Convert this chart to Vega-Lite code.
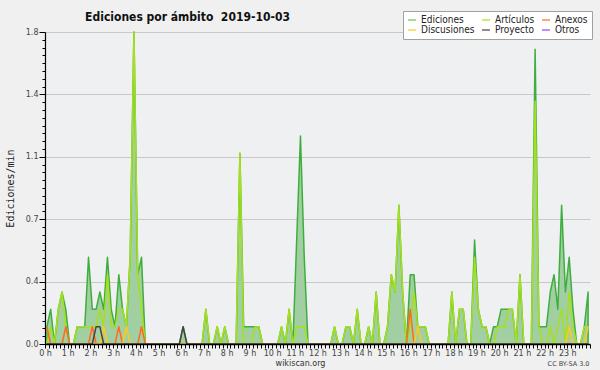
{
  "$schema": "https://vega.github.io/schema/vega-lite/v6.json",
  "width": 545,
  "height": 312,
  "autosize": {"type": "none"},
  "padding": {"left": 45, "top": 32, "right": 10, "bottom": 26},
  "background": "#f0f0f0",
  "title": {"text": "Ediciones por ámbito\u00a0 2019-10-03", "font": "DejaVu Sans Condensed", "fontSize": 12, "fontWeight": "bold", "color": "#111111", "anchor": "middle", "dx": -130, "dy": 19, "offset": 6},
  "config": {"view": {"stroke": null, "fill": "#eef0f2"}},
  "data": {"values": [
    {"t":5,"ed":0.1,"ar":0,"an":0.1,"di":0,"pr":0},
    {"t":15,"ed":0.2,"ar":0.1,"an":0,"di":0,"pr":0},
    {"t":25,"ed":0,"ar":0,"an":0,"di":0,"pr":0},
    {"t":35,"ed":0.2,"ar":0.2,"an":0,"di":0,"pr":0},
    {"t":45,"ed":0.3,"ar":0.3,"an":0,"di":0,"pr":0},
    {"t":55,"ed":0.2,"ar":0.1,"an":0.1,"di":0,"pr":0},
    {"t":65,"ed":0,"ar":0,"an":0,"di":0,"pr":0},
    {"t":75,"ed":0,"ar":0,"an":0,"di":0,"pr":0},
    {"t":85,"ed":0.1,"ar":0.1,"an":0,"di":0,"pr":0},
    {"t":95,"ed":0.1,"ar":0.1,"an":0,"di":0,"pr":0},
    {"t":105,"ed":0.1,"ar":0.1,"an":0,"di":0,"pr":0},
    {"t":115,"ed":0.5,"ar":0.1,"an":0,"di":0,"pr":0},
    {"t":125,"ed":0.2,"ar":0.1,"an":0.1,"di":0,"pr":0},
    {"t":135,"ed":0.2,"ar":0.1,"an":0,"di":0,"pr":0.1},
    {"t":145,"ed":0.3,"ar":0.2,"an":0,"di":0,"pr":0.1},
    {"t":155,"ed":0.2,"ar":0.1,"an":0,"di":0.1,"pr":0},
    {"t":165,"ed":0.5,"ar":0.4,"an":0,"di":0,"pr":0},
    {"t":175,"ed":0.2,"ar":0.1,"an":0,"di":0,"pr":0},
    {"t":185,"ed":0.1,"ar":0.1,"an":0,"di":0,"pr":0},
    {"t":195,"ed":0.4,"ar":0.2,"an":0.1,"di":0,"pr":0},
    {"t":205,"ed":0.2,"ar":0.2,"an":0,"di":0,"pr":0},
    {"t":215,"ed":0.1,"ar":0.1,"an":0,"di":0.1,"pr":0},
    {"t":225,"ed":0.5,"ar":0.5,"an":0,"di":0,"pr":0},
    {"t":235,"ed":1.8,"ar":1.8,"an":0,"di":0,"pr":0},
    {"t":245,"ed":0.4,"ar":0.4,"an":0,"di":0,"pr":0},
    {"t":255,"ed":0.5,"ar":0.2,"an":0.1,"di":0,"pr":0},
    {"t":265,"ed":0,"ar":0,"an":0,"di":0,"pr":0},
    {"t":275,"ed":0,"ar":0,"an":0,"di":0,"pr":0},
    {"t":285,"ed":0,"ar":0,"an":0,"di":0,"pr":0},
    {"t":295,"ed":0,"ar":0,"an":0,"di":0,"pr":0},
    {"t":305,"ed":0,"ar":0,"an":0,"di":0,"pr":0},
    {"t":315,"ed":0,"ar":0,"an":0,"di":0,"pr":0},
    {"t":325,"ed":0,"ar":0,"an":0,"di":0,"pr":0},
    {"t":335,"ed":0,"ar":0,"an":0,"di":0,"pr":0},
    {"t":345,"ed":0,"ar":0,"an":0,"di":0,"pr":0},
    {"t":355,"ed":0,"ar":0,"an":0,"di":0,"pr":0},
    {"t":365,"ed":0.1,"ar":0,"an":0,"di":0,"pr":0.1},
    {"t":375,"ed":0,"ar":0,"an":0,"di":0,"pr":0},
    {"t":385,"ed":0,"ar":0,"an":0,"di":0,"pr":0},
    {"t":395,"ed":0,"ar":0,"an":0,"di":0,"pr":0},
    {"t":405,"ed":0,"ar":0,"an":0,"di":0,"pr":0},
    {"t":415,"ed":0,"ar":0,"an":0,"di":0,"pr":0},
    {"t":425,"ed":0.2,"ar":0.2,"an":0,"di":0,"pr":0},
    {"t":435,"ed":0,"ar":0,"an":0,"di":0,"pr":0},
    {"t":445,"ed":0,"ar":0,"an":0,"di":0,"pr":0},
    {"t":455,"ed":0.1,"ar":0.1,"an":0,"di":0,"pr":0},
    {"t":465,"ed":0,"ar":0,"an":0,"di":0,"pr":0},
    {"t":475,"ed":0.1,"ar":0.1,"an":0,"di":0,"pr":0},
    {"t":485,"ed":0,"ar":0,"an":0,"di":0,"pr":0},
    {"t":495,"ed":0,"ar":0,"an":0,"di":0,"pr":0},
    {"t":505,"ed":0,"ar":0,"an":0,"di":0,"pr":0},
    {"t":515,"ed":1.1,"ar":1.1,"an":0,"di":0,"pr":0},
    {"t":525,"ed":0.1,"ar":0,"an":0,"di":0,"pr":0},
    {"t":535,"ed":0.1,"ar":0,"an":0,"di":0,"pr":0},
    {"t":545,"ed":0.1,"ar":0,"an":0,"di":0,"pr":0},
    {"t":555,"ed":0.1,"ar":0.1,"an":0,"di":0,"pr":0},
    {"t":565,"ed":0.1,"ar":0.1,"an":0,"di":0,"pr":0},
    {"t":575,"ed":0,"ar":0,"an":0,"di":0,"pr":0},
    {"t":585,"ed":0,"ar":0,"an":0,"di":0,"pr":0},
    {"t":595,"ed":0,"ar":0,"an":0,"di":0,"pr":0},
    {"t":605,"ed":0,"ar":0,"an":0,"di":0,"pr":0},
    {"t":615,"ed":0,"ar":0,"an":0,"di":0,"pr":0},
    {"t":625,"ed":0.1,"ar":0.1,"an":0,"di":0,"pr":0},
    {"t":635,"ed":0,"ar":0,"an":0,"di":0,"pr":0},
    {"t":645,"ed":0.2,"ar":0.2,"an":0,"di":0,"pr":0},
    {"t":655,"ed":0,"ar":0,"an":0,"di":0,"pr":0},
    {"t":665,"ed":0.6,"ar":0.1,"an":0,"di":0,"pr":0},
    {"t":675,"ed":1.2,"ar":0.1,"an":0,"di":0,"pr":0},
    {"t":685,"ed":0.5,"ar":0.1,"an":0,"di":0,"pr":0},
    {"t":695,"ed":0,"ar":0,"an":0,"di":0,"pr":0},
    {"t":705,"ed":0,"ar":0,"an":0,"di":0,"pr":0},
    {"t":715,"ed":0,"ar":0,"an":0,"di":0,"pr":0},
    {"t":725,"ed":0,"ar":0,"an":0,"di":0,"pr":0},
    {"t":735,"ed":0,"ar":0,"an":0,"di":0,"pr":0},
    {"t":745,"ed":0,"ar":0,"an":0,"di":0,"pr":0},
    {"t":755,"ed":0,"ar":0,"an":0,"di":0,"pr":0},
    {"t":765,"ed":0.1,"ar":0.1,"an":0,"di":0,"pr":0},
    {"t":775,"ed":0,"ar":0,"an":0,"di":0,"pr":0},
    {"t":785,"ed":0,"ar":0,"an":0,"di":0,"pr":0},
    {"t":795,"ed":0.1,"ar":0.1,"an":0,"di":0,"pr":0},
    {"t":805,"ed":0.1,"ar":0.1,"an":0,"di":0,"pr":0},
    {"t":815,"ed":0,"ar":0,"an":0,"di":0,"pr":0},
    {"t":825,"ed":0.2,"ar":0.2,"an":0,"di":0,"pr":0},
    {"t":835,"ed":0,"ar":0,"an":0,"di":0,"pr":0},
    {"t":845,"ed":0,"ar":0,"an":0,"di":0,"pr":0},
    {"t":855,"ed":0.1,"ar":0.1,"an":0,"di":0,"pr":0},
    {"t":865,"ed":0,"ar":0,"an":0,"di":0,"pr":0},
    {"t":875,"ed":0.3,"ar":0.3,"an":0,"di":0,"pr":0},
    {"t":885,"ed":0,"ar":0,"an":0,"di":0,"pr":0},
    {"t":895,"ed":0,"ar":0,"an":0,"di":0,"pr":0},
    {"t":905,"ed":0.1,"ar":0.1,"an":0,"di":0,"pr":0},
    {"t":915,"ed":0.4,"ar":0.4,"an":0,"di":0,"pr":0},
    {"t":925,"ed":0.3,"ar":0.3,"an":0,"di":0,"pr":0},
    {"t":935,"ed":0.8,"ar":0.8,"an":0,"di":0,"pr":0},
    {"t":945,"ed":0.3,"ar":0.3,"an":0,"di":0,"pr":0},
    {"t":955,"ed":0,"ar":0,"an":0,"di":0,"pr":0},
    {"t":965,"ed":0.4,"ar":0.1,"an":0.2,"di":0,"pr":0},
    {"t":975,"ed":0.4,"ar":0.3,"an":0,"di":0,"pr":0},
    {"t":985,"ed":0.1,"ar":0.1,"an":0,"di":0.1,"pr":0},
    {"t":995,"ed":0.1,"ar":0.1,"an":0,"di":0,"pr":0},
    {"t":1005,"ed":0.1,"ar":0.1,"an":0,"di":0,"pr":0},
    {"t":1015,"ed":0,"ar":0,"an":0,"di":0,"pr":0},
    {"t":1025,"ed":0,"ar":0,"an":0,"di":0,"pr":0},
    {"t":1035,"ed":0,"ar":0,"an":0,"di":0,"pr":0},
    {"t":1045,"ed":0,"ar":0,"an":0,"di":0,"pr":0},
    {"t":1055,"ed":0,"ar":0,"an":0,"di":0,"pr":0},
    {"t":1065,"ed":0,"ar":0,"an":0,"di":0,"pr":0},
    {"t":1075,"ed":0.3,"ar":0.3,"an":0,"di":0,"pr":0},
    {"t":1085,"ed":0,"ar":0,"an":0,"di":0,"pr":0},
    {"t":1095,"ed":0.2,"ar":0.2,"an":0,"di":0,"pr":0},
    {"t":1105,"ed":0.2,"ar":0.2,"an":0,"di":0,"pr":0},
    {"t":1115,"ed":0,"ar":0,"an":0,"di":0,"pr":0},
    {"t":1125,"ed":0,"ar":0,"an":0,"di":0,"pr":0},
    {"t":1135,"ed":0.6,"ar":0.5,"an":0,"di":0,"pr":0},
    {"t":1145,"ed":0.2,"ar":0.2,"an":0,"di":0,"pr":0},
    {"t":1155,"ed":0.1,"ar":0.1,"an":0,"di":0,"pr":0},
    {"t":1165,"ed":0.1,"ar":0.1,"an":0,"di":0,"pr":0},
    {"t":1175,"ed":0,"ar":0,"an":0,"di":0,"pr":0},
    {"t":1185,"ed":0.1,"ar":0,"an":0,"di":0,"pr":0},
    {"t":1195,"ed":0.1,"ar":0.1,"an":0,"di":0,"pr":0},
    {"t":1205,"ed":0.2,"ar":0.1,"an":0,"di":0,"pr":0},
    {"t":1215,"ed":0.2,"ar":0.1,"an":0,"di":0,"pr":0},
    {"t":1225,"ed":0.2,"ar":0.2,"an":0,"di":0,"pr":0},
    {"t":1235,"ed":0.2,"ar":0.2,"an":0,"di":0,"pr":0},
    {"t":1245,"ed":0,"ar":0,"an":0,"di":0,"pr":0},
    {"t":1255,"ed":0.4,"ar":0.4,"an":0,"di":0,"pr":0},
    {"t":1265,"ed":0,"ar":0,"an":0,"di":0,"pr":0},
    {"t":1275,"ed":0,"ar":0,"an":0,"di":0,"pr":0},
    {"t":1285,"ed":0,"ar":0,"an":0,"di":0,"pr":0},
    {"t":1295,"ed":1.7,"ar":1.4,"an":0,"di":0,"pr":0},
    {"t":1305,"ed":0.1,"ar":0.1,"an":0,"di":0,"pr":0},
    {"t":1315,"ed":0.1,"ar":0,"an":0,"di":0,"pr":0},
    {"t":1325,"ed":0.1,"ar":0,"an":0,"di":0,"pr":0},
    {"t":1335,"ed":0.3,"ar":0.1,"an":0,"di":0,"pr":0},
    {"t":1345,"ed":0.4,"ar":0,"an":0,"di":0,"pr":0},
    {"t":1355,"ed":0.2,"ar":0.1,"an":0,"di":0,"pr":0},
    {"t":1365,"ed":0.8,"ar":0.2,"an":0,"di":0,"pr":0},
    {"t":1375,"ed":0.3,"ar":0,"an":0,"di":0,"pr":0},
    {"t":1385,"ed":0.5,"ar":0.3,"an":0,"di":0.1,"pr":0},
    {"t":1395,"ed":0.2,"ar":0.1,"an":0,"di":0,"pr":0},
    {"t":1405,"ed":0,"ar":0,"an":0,"di":0,"pr":0},
    {"t":1415,"ed":0,"ar":0,"an":0,"di":0,"pr":0},
    {"t":1425,"ed":0.1,"ar":0.1,"an":0,"di":0,"pr":0},
    {"t":1435,"ed":0.3,"ar":0.1,"an":0,"di":0.1,"pr":0}
  ]},
  "layer": [
    {
      "mark": {"type": "area", "fill": "#a2cfa2", "stroke": "#3fae3f", "strokeWidth": 1.5, "strokeJoin": "round"},
      "encoding": {
        "x": {"field": "t", "type": "quantitative", "scale": {"domain": [0, 1440], "nice": false, "zero": false},
          "axis": {"tickCount": 144, "labelExpr": "datum.value % 60 == 0 && datum.value < 1440 ? (datum.value / 60) + ' h' : ''",
            "labelOverlap": false, "labelFlush": false, "labelBound": false, "grid": false,
            "domainColor": "#000000", "domainWidth": 1.5, "tickColor": "#000000", "tickSize": 4, "tickWidth": 1,
            "labelFont": "DejaVu Sans", "labelFontSize": 8, "labelColor": "#444444", "labelPadding": 1,
            "title": "wikiscan.org", "titleFont": "DejaVu Sans", "titleFontSize": 8, "titleFontWeight": "normal", "titleColor": "#333333",
            "titleX": 255, "titleY": 21, "titleAlign": "center", "titleBaseline": "alphabetic", "zindex": 1}},
        "y": {"field": "ed", "type": "quantitative", "scale": {"domain": [0, 1.8], "nice": false},
          "axis": {"values": [0,0.045,0.09,0.135,0.18,0.225,0.27,0.315,0.36,0.405,0.45,0.495,0.54,0.585,0.63,0.675,0.72,0.765,0.81,0.855,0.9,0.945,0.99,1.035,1.08,1.125,1.17,1.215,1.26,1.305,1.35,1.395,1.44,1.485,1.53,1.575,1.62,1.665,1.71,1.755,1.8],
            "labelExpr": "round(datum.value * 1000) % 360 == 0 ? format(datum.value, '.1f') : ''",
            "labelOverlap": false, "labelFlush": false, "labelBound": false,
            "grid": true, "gridColor": "#c8c8c8", "gridWidth": 1.2,
            "gridOpacity": {"condition": {"test": "round(datum.value * 1000) % 360 == 0 && datum.value > 0", "value": 1}, "value": 0},
            "tickSize": {"condition": {"test": "round(datum.value * 1000) % 360 == 0", "value": 6}, "value": 3},
            "tickColor": "#000000", "domainColor": "#000000", "domainWidth": 1.2,
            "labelFont": "DejaVu Sans", "labelFontSize": 8, "labelColor": "#444444", "labelPadding": 1,
            "title": "Ediciones/min", "titleFont": "DejaVu Sans Mono", "titleFontSize": 10, "titleFontWeight": "normal", "titleColor": "#222222",
            "titleX": -32, "titleY": 156, "titleAngle": 270, "titleAlign": "center", "titleBaseline": "alphabetic"}}
      }
    },
    {
      "transform": [{"fold": ["ar", "an", "di", "pr"], "as": ["s", "v"]}],
      "mark": {"type": "line", "strokeWidth": 1.5, "strokeJoin": "round"},
      "encoding": {
        "x": {"field": "t", "type": "quantitative", "scale": {"domain": [0, 1440], "nice": false, "zero": false},
          "axis": {"orient": "bottom", "domain": false, "ticks": false, "labels": false, "grid": false,
            "title": "CC BY-SA 3.0", "titleFont": "DejaVu Sans", "titleFontSize": 6.5, "titleFontWeight": "normal", "titleColor": "#444444",
            "titleX": 544, "titleY": 21, "titleAlign": "right", "titleBaseline": "alphabetic"}},
        "y": {"field": "v", "type": "quantitative", "scale": {"domain": [0, 1.8], "nice": false},
          "axis": {"values": [0,0.045,0.09,0.135,0.18,0.225,0.27,0.315,0.36,0.405,0.45,0.495,0.54,0.585,0.63,0.675,0.72,0.765,0.81,0.855,0.9,0.945,0.99,1.035,1.08,1.125,1.17,1.215,1.26,1.305,1.35,1.395,1.44,1.485,1.53,1.575,1.62,1.665,1.71,1.755,1.8],
            "labelExpr": "round(datum.value * 1000) % 360 == 0 ? format(datum.value, '.1f') : ''",
            "labelOverlap": false, "labelFlush": false, "labelBound": false,
            "grid": true, "gridColor": "#c8c8c8", "gridWidth": 1.2,
            "gridOpacity": {"condition": {"test": "round(datum.value * 1000) % 360 == 0 && datum.value > 0", "value": 1}, "value": 0},
            "tickSize": {"condition": {"test": "round(datum.value * 1000) % 360 == 0", "value": 6}, "value": 3},
            "tickColor": "#000000", "domainColor": "#000000", "domainWidth": 1.2,
            "labelFont": "DejaVu Sans", "labelFontSize": 8, "labelColor": "#444444", "labelPadding": 1,
            "title": "Ediciones/min", "titleFont": "DejaVu Sans Mono", "titleFontSize": 10, "titleFontWeight": "normal", "titleColor": "#222222",
            "titleX": -32, "titleY": 156, "titleAngle": 270, "titleAlign": "center", "titleBaseline": "alphabetic"}},
        "color": {"field": "s", "type": "nominal",
          "scale": {"domain": ["ed", "ar", "an", "di", "pr", "ot"], "range": ["#66c466", "#a6e01a", "#ff6a22", "#ffc820", "#444444", "#9944ff"]},
          "legend": {"orient": "none", "legendX": 358, "legendY": -21, "columns": 3, "direction": "horizontal", "title": null,
            "fillColor": "#ffffff", "strokeColor": "#a0a0a0", "padding": 4, "symbolType": "stroke", "symbolSize": 64, "symbolStrokeWidth": 1.2,
            "labelFont": "DejaVu Sans Condensed", "labelFontSize": 10, "labelColor": "#222222", "labelOffset": 4, "columnPadding": 4, "rowPadding": 0,
            "labelExpr": "datum.label == 'ed' ? 'Ediciones' : datum.label == 'ar' ? 'Artículos' : datum.label == 'an' ? 'Anexos' : datum.label == 'di' ? 'Discusiones' : datum.label == 'pr' ? 'Proyecto' : 'Otros'"}}
      }
    }
  ],
  "resolve": {"axis": {"x": "independent"}}
}
